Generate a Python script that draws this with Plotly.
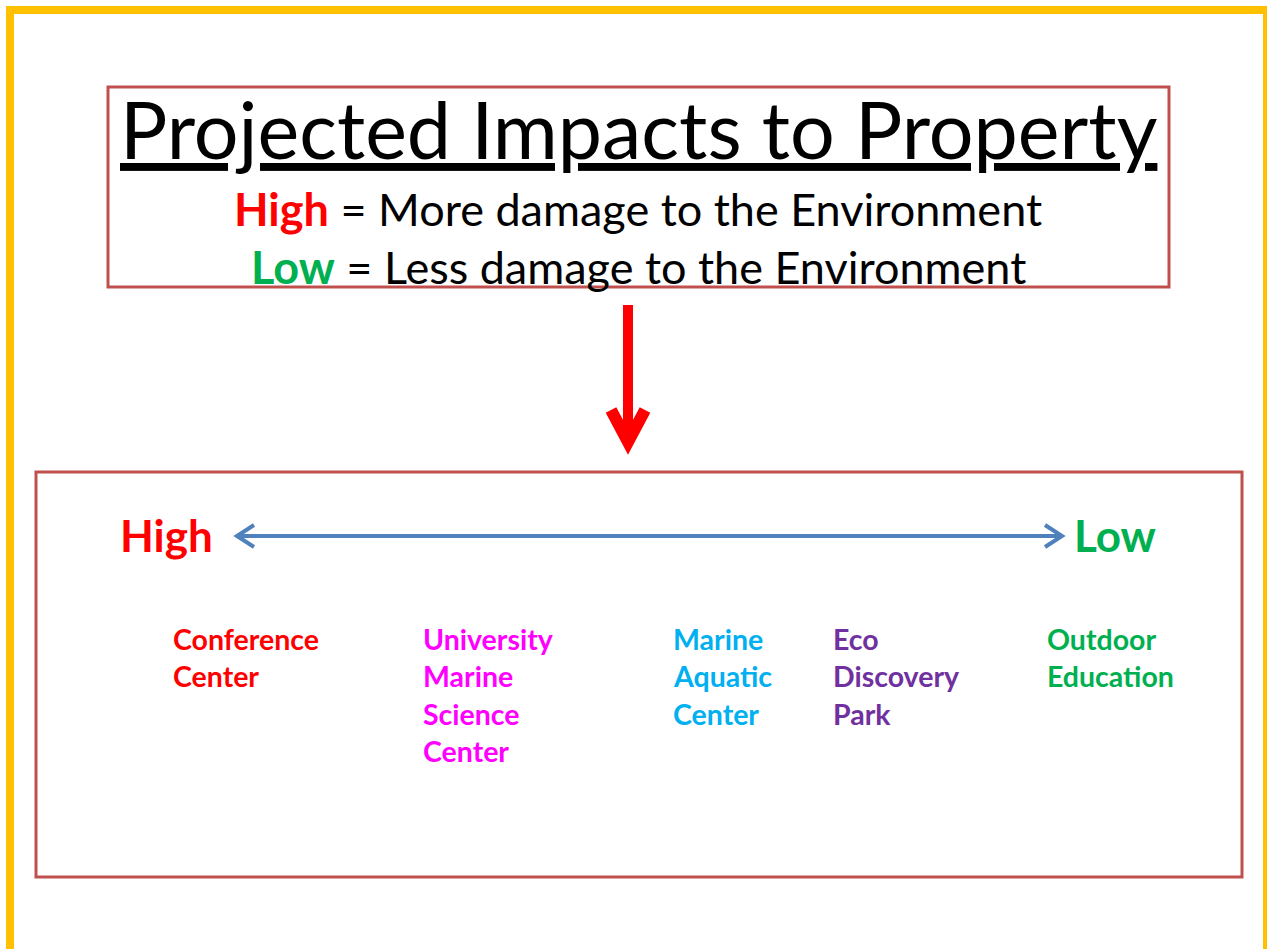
import plotly.graph_objects as go

# ---- content ----
title_text = "Projected Impacts to Property"
legend_words = ["High", "Low"]
legend_desc = ["= More damage to the Environment", "= Less damage to the Environment"]
legend_colors = ["#FF0000", "#00B050"]
scale_ends = ["High", "Low"]
options = ["Conference<br>Center",
           "University<br>Marine<br>Science<br>Center",
           "Marine<br>Aquatic<br>Center",
           "Eco<br>Discovery<br>Park",
           "Outdoor<br>Education"]
option_colors = ["#FF0000", "#FF00FF", "#00B0F0", "#7030A0", "#00B050"]

W, H = 1267, 949
FONT = "Lato"
BOX = "#C0504D"

fig = go.Figure()
fig.add_trace(go.Scatter(x=[0, W], y=[0, H], mode="markers", marker=dict(opacity=0), hoverinfo="skip", showlegend=False))

shapes = []
# outer yellow frame
shapes.append(dict(type="rect", x0=10, y0=10, x1=1267, y1=980, line=dict(color="#FFC000", width=8)))
# top box
shapes.append(dict(type="rect", x0=108, y0=87, x1=1169, y1=287, line=dict(color=BOX, width=3)))
# bottom box
shapes.append(dict(type="rect", x0=36, y0=472, x1=1242, y1=877, line=dict(color=BOX, width=3)))
# red down arrow
shapes.append(dict(type="rect", x0=623, y0=305, x1=633, y1=440, fillcolor="#FF0000", line=dict(width=0)))
shapes.append(dict(type="path", path="M 611,410 L 628,442 L 645,410", line=dict(color="#FF0000", width=12)))
# blue double arrow
shapes.append(dict(type="line", x0=238, y0=536, x1=1061, y1=536, line=dict(color="#4F81BD", width=4)))
shapes.append(dict(type="path", path="M 254,525 L 237,536 L 254,547", line=dict(color="#4F81BD", width=4)))
shapes.append(dict(type="path", path="M 1045,525 L 1062,536 L 1045,547", line=dict(color="#4F81BD", width=4)))

ann = []
ann.append(dict(x=639, y=128, text="<u>" + title_text + "</u>", showarrow=False, xanchor="center", yanchor="middle",
                font=dict(family=FONT, size=79, color="black")))
for i, (w, d, c) in enumerate(zip(legend_words, legend_desc, legend_colors)):
    ann.append(dict(x=638, y=209 + i * 58, showarrow=False, xanchor="center", yanchor="middle",
                    text=f"<b><span style='color:{c}'>{w}</span></b> {d}",
                    font=dict(family=FONT, size=45, color="black")))
ann.append(dict(x=118, y=535, text="<b>" + scale_ends[0] + "</b>", showarrow=False, xanchor="left", yanchor="middle",
                font=dict(family=FONT, size=44, color="#FF0000")))
ann.append(dict(x=1072, y=535, text="<b>" + scale_ends[1] + "</b>", showarrow=False, xanchor="left", yanchor="middle",
                font=dict(family=FONT, size=44, color="#00B050")))

xs = [171, 421, 671, 831, 1045]
for label, c, x in zip(options, option_colors, xs):
    for j, line in enumerate(label.split("<br>")):
        ann.append(dict(x=x, y=639 + j * 37.3, text="<b>" + line + "</b>", showarrow=False,
                        xanchor="left", yanchor="middle", font=dict(family=FONT, size=28.5, color=c)))

fig.update_layout(width=W, height=H, margin=dict(l=0, r=0, t=0, b=0),
                  paper_bgcolor="white", plot_bgcolor="white",
                  xaxis=dict(range=[0, W], visible=False, fixedrange=True),
                  yaxis=dict(range=[H, 0], visible=False, fixedrange=True),
                  shapes=shapes, annotations=ann, showlegend=False)
fig.write_html("out.html", config={"displayModeBar": False},
               post_script="document.body.style.margin='0';document.body.style.overflow='hidden';")
